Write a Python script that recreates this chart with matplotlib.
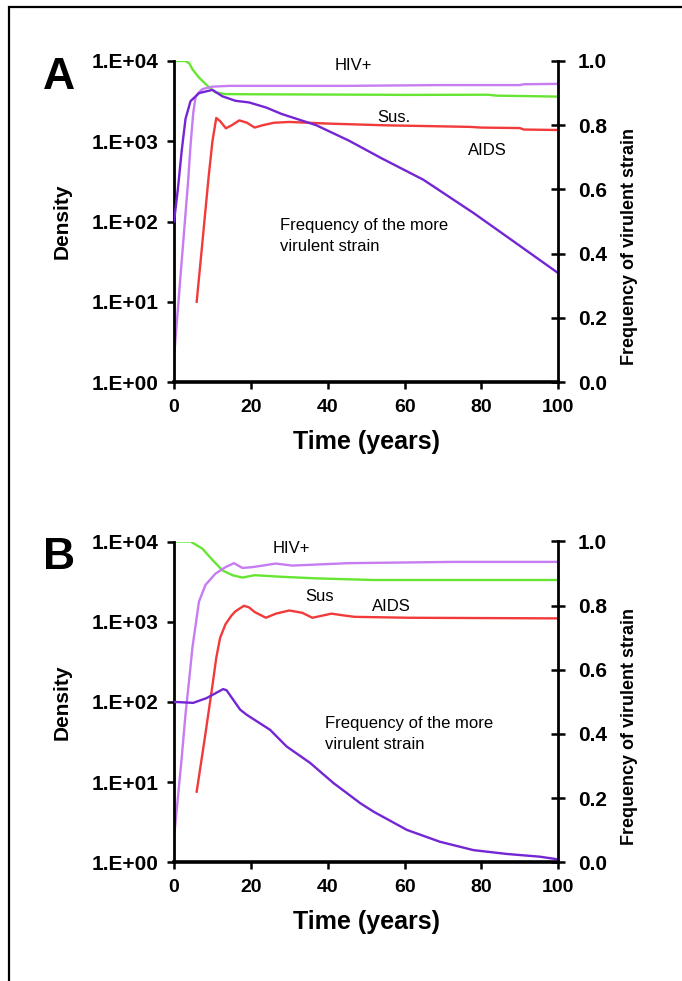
import matplotlib
matplotlib.use("Agg")
import matplotlib.pyplot as plt
from matplotlib.patches import Rectangle
from matplotlib.ticker import NullLocator

plt.rcParams["font.family"] = ["Liberation Sans", "DejaVu Sans"]

# ---- panel A ----
a_sus_t = [0, 3, 4, 4.8, 6.5, 8.7, 10.8, 13.4, 20, 52, 60, 81.7, 84, 89, 100]
a_sus = [10000, 10000, 9330, 7890, 6220, 4910, 4060, 3870, 3850, 3800, 3780, 3800, 3700, 3670, 3600]

a_hiv_t = [0, 1, 2, 3, 3.7, 4.3, 5, 5.6, 6.5, 7.4, 10, 14.3, 45, 69, 90, 91, 100]
a_hiv = [2, 8, 32, 126, 330, 890, 2240, 3550, 4070, 4470, 4790, 4900, 4900, 5010, 5010, 5130, 5190]

a_aids_t = [5.9, 7, 8, 9, 10, 11, 12, 13.5, 15, 17, 19, 21, 23, 26, 30, 40, 55, 77, 80, 90, 91, 100]
a_aids = [10, 35, 112, 355, 1000, 1950, 1780, 1450, 1580, 1820, 1700, 1480, 1580, 1700, 1740,
          1660, 1580, 1510, 1480, 1460, 1400, 1380]

a_freq_t = [0, 1, 2, 3, 4.3, 6.5, 10, 12.6, 16, 19.5, 24, 28, 37, 45.5, 54, 64.9, 78, 86.6, 100]
a_freq = [0.5, 0.6, 0.72, 0.82, 0.875, 0.90, 0.91, 0.89, 0.876, 0.871, 0.855, 0.835, 0.80,
          0.752, 0.697, 0.63, 0.526, 0.453, 0.339]

# ---- panel B ----
b_sus_t = [0, 4.3, 7.4, 10, 12.6, 15.2, 17.8, 21, 28, 37, 52, 100]
b_sus = [10000, 10000, 8130, 5890, 4370, 3800, 3550, 3800, 3630, 3470, 3310, 3310]

b_hiv_t = [0, 1, 2, 3, 4, 4.8, 6.5, 8.2, 10.8, 13.4, 15.6, 17.8, 20.4, 26.5, 30.8, 45.5, 73, 100]
b_hiv = [2, 6.3, 20, 71, 200, 480, 1780, 2880, 3980, 4790, 5370, 4680, 4790, 5310, 5010, 5370, 5570, 5570]

b_aids_t = [5.9, 8, 10, 11, 12, 13.4, 15, 16, 18.2, 19.5, 21, 23.9, 26.5, 30, 33.4, 36, 41, 44, 47, 61, 100]
b_aids = [7.6, 35, 160, 355, 630, 930, 1200, 1350, 1580, 1510, 1320, 1120, 1260, 1380, 1290,
          1120, 1260, 1200, 1150, 1120, 1100]

b_freq_t = [0, 5, 8.5, 12.8, 13.7, 17.2, 18.9, 25, 29.3, 35.4, 41.5, 48.5, 51.9, 60.6, 69.2,
            77.9, 86.6, 95.2, 100]
b_freq = [0.5, 0.497, 0.512, 0.54, 0.536, 0.476, 0.46, 0.413, 0.361, 0.31, 0.247, 0.184, 0.158,
          0.101, 0.064, 0.038, 0.026, 0.0175, 0.009]

dens_ticks = [1, 10, 100, 1000, 10000]
dens_labels = ["1.E+00", "1.E+01", "1.E+02", "1.E+03", "1.E+04"]
freq_ticks = [0.0, 0.2, 0.4, 0.6, 0.8, 1.0]
time_ticks = [0, 20, 40, 60, 80, 100]

GREEN = "#66e633"
PINK = "#c77cf2"
RED = "#f23a3a"
PURPLE = "#7426d4"

fig = plt.figure(figsize=(6.82, 9.81), dpi=100)

# frame round the figure (top and left edge only visible)
fig.add_artist(Rectangle((9 / 682, -0.05), 1.1, 1.05 - 7 / 981, transform=fig.transFigure,
                         fill=False, lw=1.6, edgecolor="black", clip_on=False))


def panel(rect, letter, sus, hiv, aids, freq, texts, time_y):
    ax = fig.add_axes(rect)
    ax2 = ax.twinx()
    lw = 1.7
    ax.plot(*sus, color=GREEN, lw=lw)
    ax.plot(*hiv, color=PINK, lw=lw)
    ax.plot(*aids, color=RED, lw=lw)
    ax2.plot(*freq, color=PURPLE, lw=lw)

    ax.set_yscale("log")
    ax.set_ylim(1, 10000)
    ax.set_xlim(0, 100)
    ax.set_yticks(dens_ticks)
    ax.set_yticklabels(dens_labels)
    ax.yaxis.set_minor_locator(NullLocator())
    ax.set_xticks(time_ticks)
    ax2.set_ylim(0, 1.0)
    ax2.set_yticks(freq_ticks)
    ax2.set_yticklabels(["%.1f" % v for v in freq_ticks])

    for a in (ax, ax2):
        a.spines["top"].set_visible(False)
        a.patch.set_visible(False)
    ax.spines["right"].set_visible(False)
    ax2.spines["left"].set_visible(False)
    ax2.spines["bottom"].set_visible(False)
    ax.spines["left"].set_linewidth(2)
    ax.spines["bottom"].set_linewidth(2.6)
    ax2.spines["right"].set_linewidth(2)

    ax.tick_params(axis="y", direction="out", length=5, width=1.8, pad=6,
                   labelsize=15)
    ax.tick_params(axis="x", direction="out", length=5, width=1.8, pad=7,
                   labelsize=14)
    ax2.tick_params(axis="y", direction="inout", length=10, width=1.8, pad=9,
                    labelsize=15)
    for lab in ax.get_xticklabels() + ax.get_yticklabels() + ax2.get_yticklabels():
        lab.set_fontweight("bold")

    ax.text(-0.2914, 0.5, "Density", rotation=90, ha="center", va="center",
            fontsize=15, fontweight="bold", transform=ax.transAxes)
    ax.text(1.184, 0.053, "Frequency of virulent strain", rotation=90, ha="center",
            va="bottom", fontsize=13, fontweight="bold", transform=ax.transAxes)
    ax.text(0.5, time_y, "Time (years)", ha="center", va="center", fontsize=18,
            fontweight="bold", transform=ax.transAxes)
    ax.text(-0.3, 0.95, letter, ha="center", va="center", fontsize=32,
            fontweight="bold", transform=ax.transAxes)
    for (x, y, s, ha) in texts:
        ax2.text(x, y, s, ha=ha, va="center", fontsize=12, linespacing=1.45,
                 transform=ax.transAxes)
    return ax


panel([174 / 682, 1 - 382 / 981, 384.3 / 682, 321 / 981], "A",
      (a_sus_t, a_sus), (a_hiv_t, a_hiv), (a_aids_t, a_aids), (a_freq_t, a_freq),
      [(0.466, 0.985, "HIV+", "center"),
       (0.573, 0.824, "Sus.", "center"),
       (0.816, 0.72, "AIDS", "center"),
       (0.276, 0.455, "Frequency of the more\nvirulent strain", "left")],
      -0.187)

panel([174 / 682, 1 - 862.3 / 981, 384.3 / 682, 320.8 / 981], "B",
      (b_sus_t, b_sus), (b_hiv_t, b_hiv), (b_aids_t, b_aids), (b_freq_t, b_freq),
      [(0.306, 0.977, "HIV+", "center"),
       (0.38, 0.828, "Sus", "center"),
       (0.565, 0.797, "AIDS", "center"),
       (0.393, 0.40, "Frequency of the more\nvirulent strain", "left")],
      -0.186)

plt.savefig("out.png", dpi=100)
